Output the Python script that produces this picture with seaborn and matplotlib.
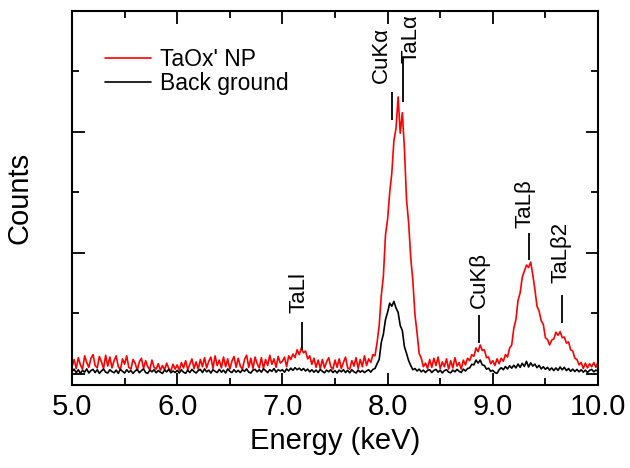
import numpy as np
import pandas as pd
import matplotlib
matplotlib.use("Agg")
import matplotlib.pyplot as plt
from matplotlib.ticker import MultipleLocator, FuncFormatter
import seaborn as sns

# Energy channels (keV) and measured counts for the two spectra
energy = np.round(np.linspace(5.0, 10.0, 251), 2)

sample_counts = [
    60, 120, 45, 135, 75, 40, 150, 95, 55, 130,
    160, 70, 50, 145, 100, 45, 155, 65, 140, 50,
    110, 150, 60, 35, 125, 80, 150, 55, 40, 120,
    90, 30, 100, 130, 45, 110, 60, 35, 115, 55,
    40, 85, 30, 70, 35, 90, 45, 25, 80, 40,
    75, 30, 95, 50, 110, 35, 80, 125, 45, 100,
    40, 120, 60, 135, 50, 105, 140, 45, 150, 70,
    115, 50, 140, 60, 125, 40, 105, 145, 55, 130,
    65, 40, 120, 155, 55, 130, 45, 140, 85, 50,
    135, 45, 120, 70, 155, 80, 125, 55, 145, 90,
    105, 140, 60, 150, 120, 165, 135, 200, 160, 215,
    175, 190, 125, 150, 80, 130, 55, 115, 45, 120,
    50, 100, 135, 60, 40, 115, 55, 125, 45, 95,
    140, 50, 40, 110, 65, 135, 45, 120, 60, 150,
    70, 125, 95, 160, 150, 260, 400, 650, 810, 1150,
    1280, 1500, 1660, 1930, 2030, 2290, 1990, 2160, 1860, 1440,
    1250, 960, 770, 490, 340, 170, 130, 60, 90, 45,
    120, 55, 130, 70, 140, 45, 100, 60, 125, 40,
    110, 50, 135, 65, 95, 40, 115, 75, 130, 110,
    160, 145, 215, 185, 240, 195, 200, 135, 140, 85,
    110, 70, 125, 85, 130, 105, 160, 140, 215, 240,
    380, 450, 610, 670, 800, 850, 900, 880, 925, 820,
    700, 560, 520, 440, 410, 300, 285, 240, 280, 290,
    345, 320, 350, 300, 305, 255, 265, 200, 190, 130,
    120, 75, 95, 45, 90, 50, 85, 60, 95, 55,
    100,
]

background_counts = [
    20, 40, 10, 35, 5, 30, 15, 42, 8, 28,
    38, 12, 35, 5, 25, 40, 15, 8, 35, 20,
    10, 32, 5, 38, 22, 8, 35, 15, 28, 5,
    25, 38, 10, 28, 42, 12, 5, 32, 18, 35,
    10, 28, 15, 5, 32, 18, 38, 10, 25, 12,
    30, 8, 35, 15, 5, 32, 12, 38, 20, 8,
    28, 38, 12, 42, 18, 32, 8, 35, 22, 12,
    38, 15, 32, 8, 42, 22, 12, 35, 15, 30,
    12, 35, 22, 42, 15, 8, 32, 38, 18, 35,
    15, 42, 28, 12, 35, 22, 45, 15, 35, 25,
    35, 15, 42, 25, 48, 30, 52, 35, 48, 30,
    45, 25, 40, 18, 35, 15, 32, 12, 38, 22,
    10, 32, 18, 35, 12, 28, 8, 32, 18, 35,
    12, 30, 10, 35, 18, 8, 32, 15, 28, 12,
    25, 35, 15, 38, 45, 85, 120, 260, 330, 450,
    510, 585, 560, 600, 545, 510, 400, 360, 225, 170,
    110, 70, 35, 45, 25, 40, 18, 32, 12, 30,
    35, 12, 30, 38, 15, 32, 8, 28, 35, 15,
    10, 32, 18, 38, 22, 12, 40, 25, 45, 50,
    80, 75, 115, 90, 115, 75, 70, 40, 48, 22,
    30, 12, 5, 35, 52, 35, 62, 42, 68, 48,
    72, 50, 82, 55, 88, 62, 105, 58, 92, 65,
    82, 52, 72, 42, 60, 38, 55, 32, 50, 28,
    50, 30, 58, 35, 55, 28, 45, 22, 40, 20,
    38, 18, 35, 15, 32, 12, 30, 38, 18, 32,
    25,
]

series_names = ["TaOx' NP", "Back ground"]
series_colors = ["#ff0000", "#000000"]

# Peak assignments: name, marker energy, text position and marker extent
peak_names = ["TaLl", "CuKα", "TaLα", "CuKβ", "TaLβ", "TaLβ2"]
peak_energy = [7.186, 8.042, 8.146, 8.869, 9.344, 9.658]
label_x = [7.16, 7.937, 8.222, 8.869, 9.306, 9.65]
label_y = [504, 2405, 2570, 545, 1207, 752]
marker_lo = [198, 2099, 2248, 256, 942, 421]
marker_hi = [430, 2330, 2620, 488, 1165, 653]

sns.set_style("ticks")
plt.rcParams["font.family"] = ["Liberation Sans", "DejaVu Sans"]
plt.rcParams["text.color"] = "black"
plt.rcParams["axes.labelcolor"] = "black"
plt.rcParams["xtick.color"] = "black"
plt.rcParams["ytick.color"] = "black"

n = len(energy)
df = pd.DataFrame({
    "Energy": np.concatenate([energy, energy]),
    "Counts": np.concatenate([sample_counts, background_counts]),
    "Series": [series_names[0]] * n + [series_names[1]] * n,
})

fig = plt.figure(figsize=(6.3, 4.68), dpi=100)
ax = fig.add_axes([72 / 630, 1 - 385 / 468, 526 / 630, 374 / 468])

sns.lineplot(data=df, x="Energy", y="Counts", hue="Series",
             hue_order=series_names, palette=series_colors,
             estimator=None, sort=False, linewidth=1.2, ax=ax)

ax.set_xlim(5.0, 10.0)
ax.set_ylim(-91, 3000)
ax.xaxis.set_major_locator(MultipleLocator(1.0))
ax.xaxis.set_minor_locator(MultipleLocator(0.5))
ax.xaxis.set_major_formatter(FuncFormatter(lambda v, _: f"{v:.1f}"))
ax.yaxis.set_major_locator(MultipleLocator(1000))
ax.yaxis.set_minor_locator(MultipleLocator(500))
ax.set_yticklabels([])

ax.tick_params(which="both", direction="in", top=True, right=True,
               width=1.3, color="black", labelcolor="black")
ax.tick_params(which="major", length=9, labelsize=21, pad=6)
ax.tick_params(which="minor", length=5)
for sp in ax.spines.values():
    sp.set_linewidth(1.5)
    sp.set_color("black")

ax.set_xlabel("Energy (keV)", fontsize=21, labelpad=4, color="black")
ax.set_ylabel("Counts", fontsize=21, labelpad=22, color="black")

handles, _ = ax.get_legend_handles_labels()
ax.legend(handles, series_names, loc="upper left",
          bbox_to_anchor=(0.045, 0.925), frameon=False, fontsize=16.5,
          handlelength=2.0, handletextpad=0.4, labelspacing=0.05,
          borderaxespad=0.0, labelcolor="black")

for name, xe, tx, ty, lo, hi in zip(peak_names, peak_energy, label_x,
                                    label_y, marker_lo, marker_hi):
    ax.vlines(xe, lo, hi, color="black", linewidth=1.3)
    ax.text(tx, ty, name, rotation=90, ha="center", va="bottom",
            fontsize=16, color="black")

fig.savefig("out.png", dpi=100)
